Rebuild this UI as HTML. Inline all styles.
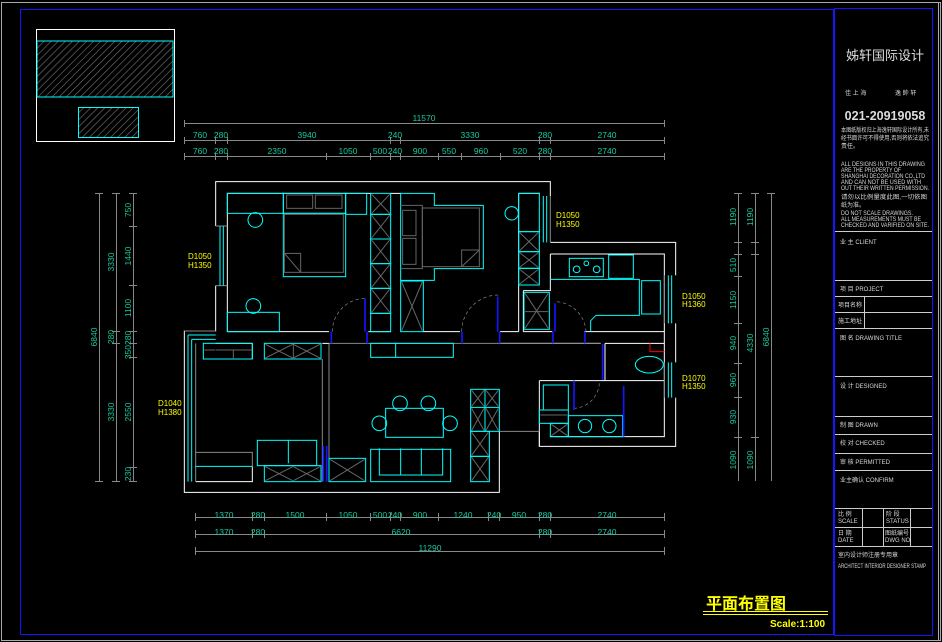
<!DOCTYPE html>
<html><head><meta charset="utf-8"><style>
html,body{margin:0;padding:0;background:#000;}
svg{display:block}
text{font-family:"Liberation Sans","Noto Sans CJK SC",sans-serif;}
.d{fill:#18c9a0;font-size:8.5px;text-anchor:middle}
.y{fill:#ffff00;font-size:8px}
.t{fill:#d8d8d8;font-size:6px}
</style></head><body>
<svg width="942" height="642" viewBox="0 0 942 642" xmlns="http://www.w3.org/2000/svg">
<defs>
<pattern id="h" width="5" height="5" patternUnits="userSpaceOnUse" patternTransform="rotate(45)">
<line x1="0" y1="0" x2="0" y2="5" stroke="#777" stroke-width="1.2"/></pattern>
</defs>
<rect width="942" height="642" fill="#000"/>
<rect x="1.5" y="2.5" width="939" height="638" fill="none" stroke="#aaa"/>
<rect x="20.5" y="9.5" width="813" height="625" fill="none" stroke="#1515ff"/>
<rect x="834.5" y="8.5" width="98" height="627" fill="none" stroke="#1515ff"/>
<line x1="938.5" y1="3" x2="938.5" y2="640" stroke="#aaa"/>

<!-- thumbnail -->
<rect x="36.5" y="29.5" width="138" height="112" fill="none" stroke="#fff"/>
<rect x="37" y="41" width="136" height="56" fill="url(#h)" stroke="#0ff"/>
<rect x="78.5" y="107.5" width="60" height="30" fill="url(#h)" stroke="#0ff"/>

<!-- title block -->
<g stroke="#ccc" stroke-width="1">
<line x1="835" y1="231.5" x2="932" y2="231.5"/><line x1="835" y1="280.5" x2="932" y2="280.5"/>
<line x1="835" y1="296.5" x2="932" y2="296.5"/><line x1="835" y1="312.5" x2="932" y2="312.5"/>
<line x1="835" y1="328.5" x2="932" y2="328.5"/><line x1="835" y1="376.5" x2="932" y2="376.5"/>
<line x1="835" y1="416.5" x2="932" y2="416.5"/><line x1="835" y1="434.5" x2="932" y2="434.5"/>
<line x1="835" y1="453.5" x2="932" y2="453.5"/><line x1="835" y1="470.5" x2="932" y2="470.5"/>
<line x1="835" y1="508.5" x2="932" y2="508.5"/><line x1="835" y1="527.5" x2="932" y2="527.5"/>
<line x1="835" y1="546.5" x2="932" y2="546.5"/>
<line x1="864.5" y1="296" x2="864.5" y2="328"/>
<line x1="862.5" y1="508" x2="862.5" y2="546"/><line x1="883.5" y1="508" x2="883.5" y2="546"/><line x1="910.5" y1="508" x2="910.5" y2="546"/>
</g>
<text x="885" y="60" fill="#ddd" font-size="13" text-anchor="middle">姊轩国际设计</text>
<text x="845" y="95" class="t" font-size="7">佳 上 海</text><text x="895" y="95" class="t" font-size="7">逸 帥 轩</text>
<text x="885" y="120" fill="#ddd" font-size="12.5" font-weight="bold" text-anchor="middle">021-20919058</text>
<g class="t" font-size="5.5">
<text x="841" y="132" textLength="88" lengthAdjust="spacingAndGlyphs">本图纸版权归上海逸轩国际设计所有,未</text>
<text x="841" y="140" textLength="88" lengthAdjust="spacingAndGlyphs">经书面许可不得使用,否则将依法追究</text>
<text x="841" y="148">责任。</text>
<text x="841" y="166" textLength="84" lengthAdjust="spacingAndGlyphs">ALL DESIGNS IN THIS DRAWING</text>
<text x="841" y="172" textLength="60" lengthAdjust="spacingAndGlyphs">ARE THE PROPERTY OF</text>
<text x="841" y="178" textLength="84" lengthAdjust="spacingAndGlyphs">SHANGHAI DECORATION CO.,LTD</text>
<text x="841" y="184" textLength="80" lengthAdjust="spacingAndGlyphs">AND CAN NOT BE USED WITH</text>
<text x="841" y="190" textLength="88" lengthAdjust="spacingAndGlyphs">OUT THEIR WRITTEN PERMISSION.</text>
<text x="841" y="199" textLength="86" lengthAdjust="spacingAndGlyphs">请勿以比例量度此图,一切依图</text>
<text x="841" y="207">纸为准。</text>
<text x="841" y="215" textLength="72" lengthAdjust="spacingAndGlyphs">DO NOT SCALE DRAWINGS.</text>
<text x="841" y="221" textLength="80" lengthAdjust="spacingAndGlyphs">ALL MEASUREMENTS MUST BE</text>
<text x="841" y="227" textLength="88" lengthAdjust="spacingAndGlyphs">CHECKED AND VARIFIED ON SITE.</text>
</g>
<text x="840" y="244" class="t">业 主 CLIENT</text>
<text x="840" y="291" class="t">项 目 PROJECT</text>
<text x="838" y="307" class="t">项目名称</text>
<text x="838" y="323" class="t">施工地址</text>
<text x="840" y="340" class="t">图 名 DRAWING TITLE</text>
<text x="840" y="388" class="t">设 计 DESIGNED</text>
<text x="840" y="427" class="t">制 图 DRAWN</text>
<text x="840" y="445" class="t">校 对 CHECKED</text>
<text x="840" y="464" class="t">审 核 PERMITTED</text>
<text x="840" y="482" class="t">业主确认   CONFIRM</text>
<text x="838" y="516" class="t">比 例</text><text x="838" y="523" class="t">SCALE</text>
<text x="886" y="516" class="t">阶 段</text><text x="886" y="523" class="t">STATUS</text>
<text x="838" y="535" class="t">日 期</text><text x="838" y="542" class="t">DATE</text>
<text x="885" y="535" class="t" textLength="24" lengthAdjust="spacingAndGlyphs">图纸编号</text><text x="885" y="542" class="t">DWG NO</text>
<text x="838" y="557" class="t">室内设计师注册专用章</text>
<text x="838" y="568" class="t" font-size="5.5" textLength="88" lengthAdjust="spacingAndGlyphs">ARCHITECT INTERIOR DESIGNER STAMP</text>

<!-- drawing title -->
<text x="706" y="609" fill="#ff0" font-size="16" font-weight="bold" font-family="'Noto Sans CJK SC',sans-serif">平面布置图</text>
<line x1="703" y1="611.5" x2="828" y2="611.5" stroke="#ff0"/><line x1="703" y1="614.5" x2="828" y2="614.5" stroke="#ff0"/>
<text x="770" y="627" fill="#ff0" font-size="10" font-weight="bold">Scale:1:100</text>

<!-- dimensions -->
<g stroke="#888" stroke-width="1" fill="none">
<line x1="184" y1="123.5" x2="664" y2="123.5"/>
<line x1="184" y1="140.5" x2="664" y2="140.5"/>
<line x1="184" y1="156.5" x2="664" y2="156.5"/>
<path d="M184.5 120v7M664.5 120v7M184.5 137v7M215.5 137v7M227.5 137v7M390.5 137v7M400.5 137v7M539.5 137v7M550.5 137v7M664.5 137v7
M184.5 153v7M215.5 153v7M227.5 153v7M326.5 153v7M370.5 153v7M390.5 153v7M400.5 153v7M438.5 153v7M461.5 153v7M500.5 153v7M539.5 153v7M550.5 153v7M664.5 153v7"/>
<line x1="195" y1="517.5" x2="664" y2="517.5"/>
<line x1="195" y1="534.5" x2="664" y2="534.5"/>
<line x1="195" y1="551.5" x2="664" y2="551.5"/>
<path d="M195.5 513v8M252.5 513v8M264.5 513v8M326.5 513v8M370.5 513v8M390.5 513v8M400.5 513v8M438.5 513v8M488.5 513v8M499.5 513v8M539.5 513v8M550.5 513v8M664.5 513v8
M195.5 530v8M252.5 530v8M264.5 530v8M539.5 530v8M550.5 530v8M664.5 530v8M195.5 547v8M664.5 547v8"/>
<line x1="99.5" y1="193" x2="99.5" y2="481"/>
<line x1="116.5" y1="193" x2="116.5" y2="481"/>
<line x1="133.5" y1="193" x2="133.5" y2="481"/>
<path d="M95 193.5h8M95 481.5h8M112 193.5h8M112 331.5h8M112 343.5h8M112 481.5h8
M129 193.5h8M129 226.5h8M129 285.5h8M129 331.5h8M129 343.5h8M129 357.5h8M129 467.5h8M129 481.5h8"/>
<line x1="738.5" y1="193" x2="738.5" y2="481"/>
<line x1="755.5" y1="193" x2="755.5" y2="481"/>
<line x1="771.5" y1="193" x2="771.5" y2="481"/>
<path d="M734 193.5h8M734 242.5h8M734 254.5h8M734 276.5h8M734 323.5h8M734 363.5h8M734 397.5h8M734 437.5h8
M751 193.5h8M751 242.5h8M751 254.5h8M751 437.5h8M767 193.5h8"/>
</g>
<text class="d" x="424" y="121">11570</text>
<g class="d">
<text x="200" y="138">760</text><text x="221" y="138">280</text><text x="307" y="138">3940</text><text x="395" y="138">240</text><text x="470" y="138">3330</text><text x="545" y="138">280</text><text x="607" y="138">2740</text>
<text x="200" y="154">760</text><text x="221" y="154">280</text><text x="277" y="154">2350</text><text x="348" y="154">1050</text><text x="380" y="154">500</text><text x="395" y="154">240</text><text x="420" y="154">900</text><text x="449" y="154">550</text><text x="481" y="154">960</text><text x="520" y="154">520</text><text x="545" y="154">280</text><text x="607" y="154">2740</text>
<text x="224" y="518">1370</text><text x="258" y="518">280</text><text x="295" y="518">1500</text><text x="348" y="518">1050</text><text x="380" y="518">500</text><text x="395" y="518">240</text><text x="420" y="518">900</text><text x="463" y="518">1240</text><text x="494" y="518">240</text><text x="519" y="518">950</text><text x="545" y="518">280</text><text x="607" y="518">2740</text>
<text x="224" y="535">1370</text><text x="258" y="535">280</text><text x="401" y="535">6620</text><text x="545" y="535">280</text><text x="607" y="535">2740</text>
<text x="430" y="551">11290</text>
</g>
<g class="d">
<text transform="translate(97,337) rotate(-90)">6840</text>
<text transform="translate(114,262) rotate(-90)">3330</text>
<text transform="translate(114,337) rotate(-90)">280</text>
<text transform="translate(114,412) rotate(-90)">3330</text>
<text transform="translate(131,210) rotate(-90)">750</text>
<text transform="translate(131,256) rotate(-90)">1440</text>
<text transform="translate(131,308) rotate(-90)">1100</text>
<text transform="translate(131,345) rotate(-90)">350280</text>
<text transform="translate(131,412) rotate(-90)">2550</text>
<text transform="translate(131,474) rotate(-90)">230</text>
<text transform="translate(736,217) rotate(-90)">1190</text>
<text transform="translate(736,265) rotate(-90)">510</text>
<text transform="translate(736,300) rotate(-90)">1150</text>
<text transform="translate(736,343) rotate(-90)">940</text>
<text transform="translate(736,380) rotate(-90)">960</text>
<text transform="translate(736,417) rotate(-90)">930</text>
<text transform="translate(736,460) rotate(-90)">1090</text>
<text transform="translate(753,217) rotate(-90)">1190</text>
<text transform="translate(753,343) rotate(-90)">4330</text>
<text transform="translate(753,460) rotate(-90)">1090</text>
<text transform="translate(769,337) rotate(-90)">6840</text>
</g>

<!-- yellow labels -->
<g class="y">
<text x="556" y="218">D1050</text><text x="556" y="227">H1350</text>
<text x="188" y="259">D1050</text><text x="188" y="268">H1350</text>
<text x="158" y="406">D1040</text><text x="158" y="415">H1380</text>
<text x="682" y="299">D1050</text><text x="682" y="307">H1360</text>
<text x="682" y="381">D1070</text><text x="682" y="389">H1350</text>
</g>

<!-- plan in zoom coords -->
<g transform="translate(180,170) scale(0.33333)" fill="none" stroke-width="1" vector-effect="non-scaling-stroke">
<g stroke="#fff" stroke-width="3">
<path d="M107 168V35H1111V78M1111 217H1487V316M1487 460V577M1487 683V829H1078V784M958 784V967H13V483H107V347"/>
<path d="M142 70H572M632 70H662M1016 70H1080M142 485H447M565 485H632M730 485H840M960 485H1016M1030 485H1117M1213 485H1453"/>
<path d="M107 520H217M427 520H447M960 520H1262M1275 520H1453M1111 252H1453V800H1111M1030 362H1111V252M1030 362V485M1275 520V632M1078 632H1453M1078 632V829"/>
<path d="M142 70V485M1016 70V485M217 520V567M47 935H217V890"/>
</g>
<g stroke="#888" stroke-width="3">
<path d="M958 784H1078M447 520V935M13 483H107M47 520V935M427 567V935M47 847H217V890M447 520H1262"/>
<path d="M1111 78V217M1453 316V460M1453 577V683M107 168H142M107 347H142"/>
</g>
<g stroke="#0ff" stroke-width="3">
<path d="M1090 78V217M1100 78V217M120 168V347M130 168V347M1465 316V460M1475 316V460M1465 577V683M1475 683V577M24 495V935M35 508V935M24 495H107M35 508H107"/>
<rect x="142" y="70" width="168" height="60"/><rect x="310" y="70" width="187" height="60"/><rect x="497" y="70" width="63" height="63"/>
<rect x="310" y="130" width="187" height="190"/>
<rect x="142" y="427" width="156" height="58"/>
<rect x="572" y="70" width="60" height="63"/><rect x="572" y="133" width="60" height="74"/><rect x="572" y="207" width="60" height="74"/><rect x="572" y="281" width="60" height="74"/><rect x="572" y="355" width="60" height="75"/><rect x="572" y="430" width="60" height="55"/>
<path d="M662 70H763V106H910V296H763V331H662Z"/>
<rect x="662" y="333" width="68" height="152"/>
<rect x="1016" y="70" width="62" height="115"/><rect x="1016" y="185" width="62" height="60"/><rect x="1016" y="245" width="62" height="50"/><rect x="1016" y="295" width="62" height="50"/>
<rect x="1168" y="265" width="102" height="55"/><rect x="1286" y="255" width="74" height="70"/>
<path d="M1111 328H1378V436H1248L1232 452V485"/>
<rect x="1385" y="332" width="56" height="100"/>
<rect x="1032" y="367" width="76" height="111"/>
<rect x="70" y="520" width="147" height="47"/><rect x="253" y="520" width="170" height="47"/>
<rect x="572" y="520" width="248" height="42"/><path d="M647 520V562"/>
<path d="M47 889H217"/>
<rect x="232" y="811" width="178" height="76"/><path d="M325 811V880"/>
<rect x="253" y="887" width="170" height="48"/>
<rect x="447" y="865" width="110" height="70"/>
<rect x="572" y="838" width="240" height="97"/><path d="M598 835V915H788V835M662 835V915M724 835V915"/>
<rect x="617" y="715" width="173" height="87"/>
<rect x="872" y="658" width="86" height="126"/><path d="M872 712H958M915 658V784"/>
<rect x="872" y="784" width="56" height="75"/><rect x="872" y="859" width="56" height="76"/>
<ellipse cx="1408" cy="584" rx="42" ry="25"/>
<rect x="1078" y="720" width="87" height="40"/><rect x="1111" y="760" width="54" height="40"/>
<rect x="1165" y="737" width="163" height="63"/>
<circle cx="1215" cy="768" r="20"/><circle cx="1288" cy="768" r="20"/>
<circle cx="1190" cy="298" r="10"/><circle cx="1250" cy="298" r="10"/><circle cx="1219" cy="280" r="7"/>
<circle cx="226" cy="150" r="22"/><circle cx="220" cy="408" r="22"/><circle cx="995" cy="130" r="20"/>
<circle cx="660" cy="700" r="22"/><circle cx="745" cy="700" r="22"/><circle cx="598" cy="760" r="22"/><circle cx="810" cy="760" r="22"/>
<rect x="1090" y="645" width="75" height="75"/>
</g>
<g stroke="#666" stroke-width="3">
<rect x="320" y="75" width="78" height="40"/><rect x="406" y="75" width="80" height="40"/>
<rect x="313" y="133" width="177" height="174"/><path d="M313 250H362V307M313 250L362 307"/>
<rect x="727" y="114" width="171" height="176"/><path d="M898 240H845V290M898 240L845 290"/>
<path d="M662 106H727V296H662"/><rect x="668" y="121" width="40" height="76"/><rect x="668" y="205" width="40" height="78"/>
<path d="M575 73L629 130M629 73L575 130M575 136L629 204M629 136L575 204M575 210L629 278M629 210L575 278M575 284L629 352M629 284L575 352M575 358L629 427M629 358L575 427"/>
<path d="M665 336L727 482M727 336L665 482"/>
<path d="M1019 188L1075 242M1075 188L1019 242M1019 248L1075 292M1075 248L1019 292M1019 298L1075 342M1075 298L1019 342"/>
<path d="M1035 370L1105 475M1105 370L1035 475M1035 425H1105"/>
<path d="M256 523L338 564M338 523L256 564M340 523L420 564M420 523L340 564M340 520V567"/>
<path d="M256 890L338 932M338 890L256 932M340 890L420 932M420 890L340 932"/>
<path d="M450 868L554 932M554 868L450 932"/>
<path d="M875 661L912 709M912 661L875 709M918 661L955 709M955 661L918 709M875 715L912 781M912 715L875 781M918 715L955 781M955 715L918 781M875 787L925 856M925 787L875 856M875 862L925 932M925 862L875 932"/>
<path d="M1114 763L1162 797M1162 763L1114 797M1081 735H1162"/>
<path d="M107 540H217M73 540H105M160 540V567"/>
</g>
<g stroke="#888" stroke-width="2" stroke-dasharray="10 8">
<path d="M457 485A100 100 0 0 1 557 385M845 485A110 110 0 0 1 955 375M1218 485A95 95 0 0 0 1125 395M1258 640A80 80 0 0 1 1182 715"/>
</g>
<g stroke="#1515ff" stroke-width="5">
<path d="M555 385V485M953 380V485M1125 400V485M1268 522V630M1182 632V720M1331 648V800M430 828V935M440 828V935"/>
<path d="M454 485V520M561 485V520M846 485V520M959 485V520M1119 485V520M1215 485V520"/>
</g>
<path d="M1410 520V545H1453" stroke="#f00" stroke-width="3"/>
</g>
</svg>
</body></html>
